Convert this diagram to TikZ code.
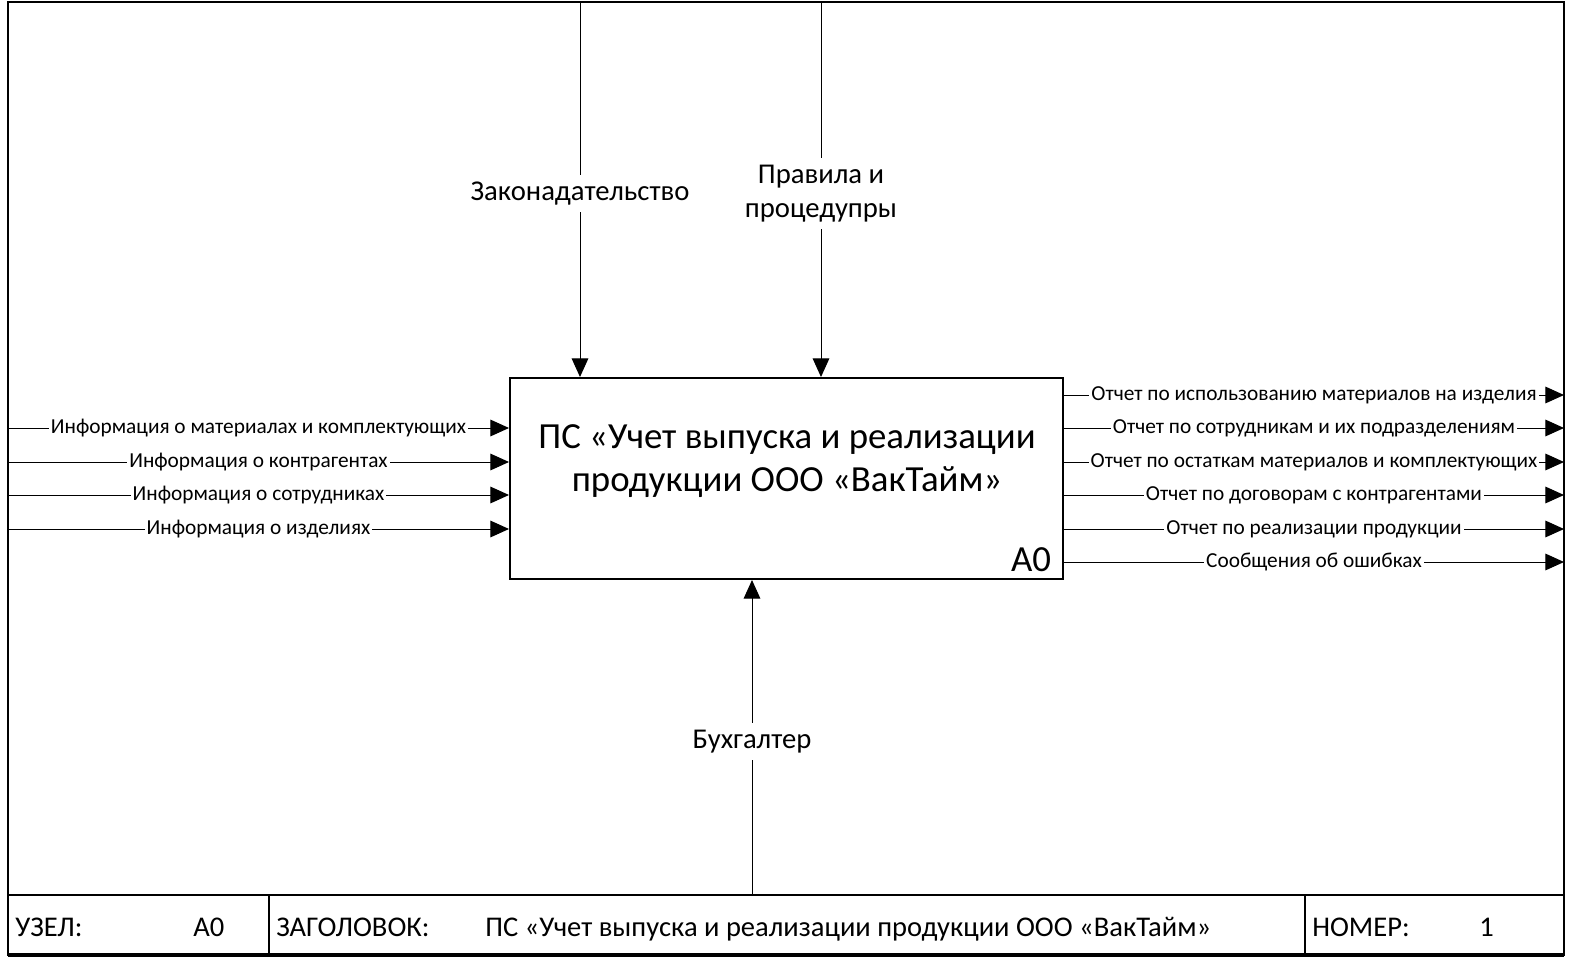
\documentclass[tikz,border=0pt]{standalone}
\usepackage{fontspec}
\setmainfont{Carlito}
\usetikzlibrary{arrows.meta}
\begin{document}
\begin{tikzpicture}[x=0.75pt,y=0.75pt,yscale=-1,xscale=1,
  arr/.style={draw, line width=0.75, -{Triangle[length=14pt,width=12.5pt]}},
  lbl/.style={fill=white, inner xsep=1.5pt, inner ysep=1pt, font=\fontsize{16}{19}\selectfont},
  ctllbl/.style={fill=white, inner xsep=2pt, inner ysep=5pt, align=center, yshift=-3pt, font=\fontsize{21.5}{25.5}\selectfont},
  cell/.style={anchor=base west, inner sep=0pt, font=\fontsize{21.4}{24}\selectfont}]
\useasboundingbox (0,0) rectangle (1571,960);

%Shape: Frame
\draw [line width=1.5] (8,2) rectangle (1564,955);
\draw [line width=3] (8,955) -- (1564,955);
%Straight Lines: title strip
\draw [line width=1.5] (8,895) -- (1564,895);
\draw [line width=1.5] (269,895) -- (269,955);
\draw [line width=1.5] (1305,895) -- (1305,955);

%Shape: Rectangle A0
\node [draw, line width=1.5, inner sep=0pt, minimum width=414.75pt, minimum height=150.75pt] (a0) at (786.5,478.5) {};
% Text Node
\node [align=center, inner sep=0pt, font=\fontsize{27.6}{32.2}\selectfont] (a0title) at (787,461) {ПС «Учет выпуска и реализации\\продукции ООО «ВакТайм»};
\node [anchor=south east, inner xsep=9.5pt, inner ysep=6pt, font=\fontsize{27.6}{30}\selectfont] (a0num) at (a0.south east) {A0};

%Straight Lines: controls
\coordinate (ctl1) at (580,2);
\coordinate (ctl2) at (821,2);
\draw [arr] (ctl1) -- (ctl1 |- a0.north) node [ctllbl, midway] (ctl1lbl) {Законадательство};
\draw [arr] (ctl2) -- (ctl2 |- a0.north) node [ctllbl, midway] (ctl2lbl) {Правила и\\процедупры};

%Straight Lines: mechanism
\coordinate (mech) at (752,895);
\draw [arr] (mech) -- (mech |- a0.south) node [ctllbl, midway] (mechlbl) {Бухгалтер};

%Straight Lines: inputs
\foreach \y/\t [count=\i] in {428/Информация о материалах и комплектующих,
  462/Информация о контрагентах,
  495/Информация о сотрудниках,
  529/Информация о изделиях} {
  \coordinate (in\i) at (8,\y);
  \draw [arr] (in\i) -- (in\i -| a0.west) node [lbl, midway] (in\i lbl) {\t};
}

%Straight Lines: outputs
\foreach \y/\t [count=\i] in {395/Отчет по использованию материалов на изделия,
  428/Отчет по сотрудникам и их подразделениям,
  462/Отчет по остаткам материалов и комплектующих,
  495/Отчет по договорам с контрагентами,
  529/Отчет по реализации продукции,
  562/Сообщения об ошибках} {
  \coordinate (out\i) at (1564,\y);
  \draw [arr] (out\i -| a0.east) -- (out\i) node [lbl, midway] (out\i lbl) {\t};
}

% Text Node: title strip
\node [cell] (uzel) at (15,936) {УЗЕЛ:};
\node [cell] (uzelnum) at (193,936) {A0};
\node [cell] (zag) at (276,936) {ЗАГОЛОВОК:};
\node [cell] (zagtxt) at (485,936) {ПС «Учет выпуска и реализации продукции ООО «ВакТайм»};
\node [cell] (nomer) at (1312,936) {НОМЕР:};
\node [cell] (nomernum) at (1479,936) {1};

\end{tikzpicture}
\end{document}
